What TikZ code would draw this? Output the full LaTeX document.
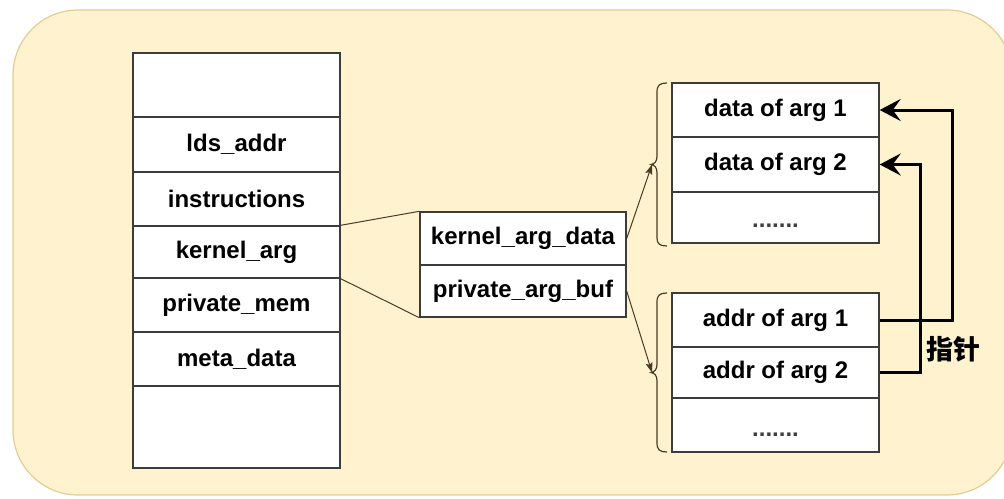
\documentclass[tikz,border=0pt]{standalone}
\usepackage{fontspec}
\setmainfont{Liberation Sans}
\newfontfamily\cjk{Noto Sans CJK SC}
\usetikzlibrary{arrows.meta}
\definecolor{panelfill}{RGB}{255,242,206}
\definecolor{paneldraw}{RGB}{225,205,150}
\definecolor{cellline}{RGB}{60,60,60}
\definecolor{linkline}{RGB}{70,60,40}
\tikzset{
  cell/.style={draw=cellline, line width=1.4pt, fill=white, inner sep=0pt,
    minimum width=207pt, font=\fontsize{24}{28}\selectfont\bfseries},
  link/.style={draw=linkline, line width=1pt},
  linkarrow/.style={link, -{Stealth[length=10pt,width=7pt,inset=2pt]}},
  ptr/.style={draw=black, line width=3pt,
    -{Stealth[length=21pt,width=22pt,inset=8pt]}},
  bracket/.style={draw=linkline, line width=1.2pt},
  dots/.style={font=\fontsize{24}{28}\selectfont\bfseries, text=black!75, inner sep=0pt},
}
\begin{document}
\begin{tikzpicture}[x=1pt,y=-1pt]
\useasboundingbox (0,0) rectangle (1004,498);
\clip (0,0) rectangle (1004,498);
% backdrop panel
\draw[fill=panelfill, draw=paneldraw, line width=1.2pt, rounded corners=65pt]
  (13,10) rectangle (1012,495);

% memory layout column
\node[cell, minimum height=64pt] (top)   at (236.5,85)   {};
\node[cell, minimum height=55pt] (lds)   at (236.5,144.5) {lds\_addr};
\node[cell, minimum height=54pt] (ins)   at (236.5,199)   {instructions};
\node[cell, minimum height=52pt] (karg)  at (236.5,252)   {kernel\_arg};
\node[cell, minimum height=54pt] (pmem)  at (236.5,305)   {private\_mem};
\node[cell, minimum height=54pt] (meta)  at (236.5,359)   {meta\_data};
\node[cell, minimum height=82pt] (bot)   at (236.5,427)   {};

% kernel argument descriptor
\node[cell, minimum width=206pt, minimum height=53pt] (kdata) at (523,238.5) {kernel\_arg\_data};
\node[cell, minimum width=206pt, minimum height=52pt] (pbuf)  at (523,291)   {private\_arg\_buf};

% argument data block
\node[cell, minimum height=54pt] (d1) at (775.5,110)   {data of arg 1};
\node[cell, minimum height=55pt] (d2) at (775.5,164.5) {data of arg 2};
\node[cell, minimum height=51pt] (d3) at (775.5,217.5) {};
\node[dots] (d3dots) at (775.5,226) {.......};

% argument address block
\node[cell, minimum height=54pt] (a1) at (775.5,320)   {addr of arg 1};
\node[cell, minimum height=51pt] (a2) at (775.5,372.5) {addr of arg 2};
\node[cell, minimum height=54pt] (a3) at (775.5,425)   {};
\node[dots] (a3dots) at (775.5,435) {.......};

% brackets grouping each block
\draw[bracket] (667,83) .. controls (660,83) and (657,85) .. (657,92)
  -- (657,156) .. controls (657,161) and (655,164) .. (651,164.5)
  .. controls (655,165) and (657,168) .. (657,173)
  -- (657,238) .. controls (657,244) and (660,246) .. (667,246);
\coordinate (dtip) at (652,164.5);
\draw[bracket] (667,293) .. controls (660,293) and (657,295) .. (657,302)
  -- (657,364) .. controls (657,369) and (655,372) .. (651,372.5)
  .. controls (655,373) and (657,376) .. (657,381)
  -- (657,443) .. controls (657,450) and (660,452) .. (667,452);
\coordinate (atip) at (652,372.5);

% expansion of kernel_arg into the descriptor
\draw[link] (karg.north east) -- (kdata.north west);
\draw[link] (karg.south east) -- (pbuf.south west);
\draw[linkarrow] (kdata.east) -- (dtip);
\draw[linkarrow] (pbuf.east) -- (atip);

% pointers from addresses to data
\coordinate (r1) at (952,0);
\coordinate (r2) at (920,0);
\draw[ptr] (a1.east) -| (r1 |- d1.east) -- (d1.east);
\draw[ptr] (a2.east) -| (r2 |- d2.east) -- (d2.east);
\node[font=\cjk\bfseries\fontsize{27}{30}\selectfont, anchor=west] (ptrlabel) at (923,349) {指针};
\end{tikzpicture}
\end{document}
